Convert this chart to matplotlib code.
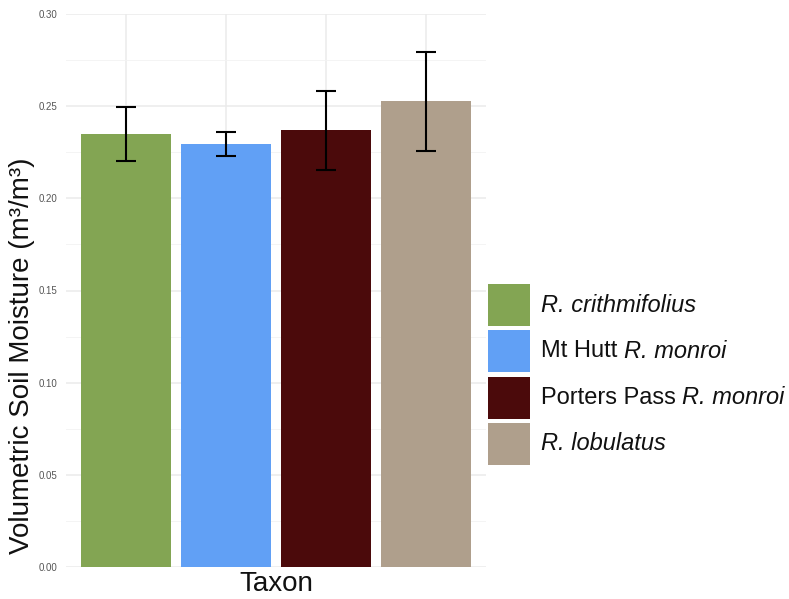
import matplotlib
matplotlib.use("Agg")
import matplotlib.pyplot as plt
from matplotlib.patches import Rectangle

plt.rcParams['font.family'] = ['Liberation Sans', 'DejaVu Sans']

# data
taxa = ["R. crithmifolius", "Mt Hutt R. monroi", "Porters Pass R. monroi", "R. lobulatus"]
# legend labels split into (plain part, italic part)
label_parts = [("", "R. crithmifolius"), ("Mt Hutt ", "R. monroi"),
               ("Porters Pass ", "R. monroi"), ("", "R. lobulatus")]
moisture = [0.2348, 0.2293, 0.2368, 0.2527]
err = [0.0147, 0.0066, 0.0216, 0.0268]
colors = ["#83A553", "#61A0F5", "#4B0A0B", "#AF9F8C"]

W, H = 789, 599
fig = plt.figure(figsize=(W / 100, H / 100), dpi=100)
ax = fig.add_axes([66/W, 32/H, 420/W, 553/H])

x = list(range(1, len(taxa) + 1))
ax.bar(x, moisture, width=0.9, color=colors, zorder=2)
ax.errorbar(x, moisture, yerr=err, fmt='none', ecolor='black', elinewidth=1.5,
            capsize=7.5, capthick=1.5, zorder=3)

ax.set_xlim(0.4, 4.6)
ax.set_ylim(0, 0.30)
ax.set_yticks([0, 0.05, 0.10, 0.15, 0.20, 0.25, 0.30])
ax.set_yticklabels(["0.00", "0.05", "0.10", "0.15", "0.20", "0.25", "0.30"])
ax.set_yticks([0.025, 0.075, 0.125, 0.175, 0.225, 0.275], minor=True)
ax.set_xticks(x)
ax.set_xticklabels([])
ax.grid(True, which='major', color='#EBEBEB', linewidth=1.1, zorder=0)
ax.grid(True, which='minor', axis='y', color='#F2F2F2', linewidth=0.6, zorder=0)
ax.set_axisbelow(True)
for s in ax.spines.values():
    s.set_visible(False)
ax.tick_params(axis='both', which='both', length=0)
ax.tick_params(axis='y', labelsize=7, labelcolor='#555555', pad=6)

# axis titles
fig.text(22/W, 1 - 356/H, "Volumetric Soil Moisture (m³/m³)", fontsize=20,
         rotation=90, ha='center', va='center', color='#111111')
fig.text(276/W, 1 - 584/H, "Taxon", fontsize=20, ha='center', va='center',
         color='#111111')

# legend, drawn by hand so the italic parts can sit inside a label
lg = fig.add_axes([0, 0, 1, 1], facecolor='none')
lg.set_xlim(0, W)
lg.set_ylim(H, 0)
lg.axis('off')
renderer = fig.canvas.get_renderer()
key_top = 284
for i, (c, (plain, ital)) in enumerate(zip(colors, label_parts)):
    y0 = key_top + i * 46.3
    lg.add_patch(Rectangle((488, y0), 42, 42, facecolor=c, edgecolor='none'))
    tx = 541
    if plain:
        t = lg.text(tx, y0 + 21, plain, fontsize=17, va='center', ha='left',
                    color='#111111')
        bb = t.get_window_extent(renderer)
        tx = tx + bb.width
    lg.text(tx, y0 + 21, ital, fontsize=17, style='italic', va='center',
            ha='left', color='#111111')

fig.savefig("out.png", dpi=100)
